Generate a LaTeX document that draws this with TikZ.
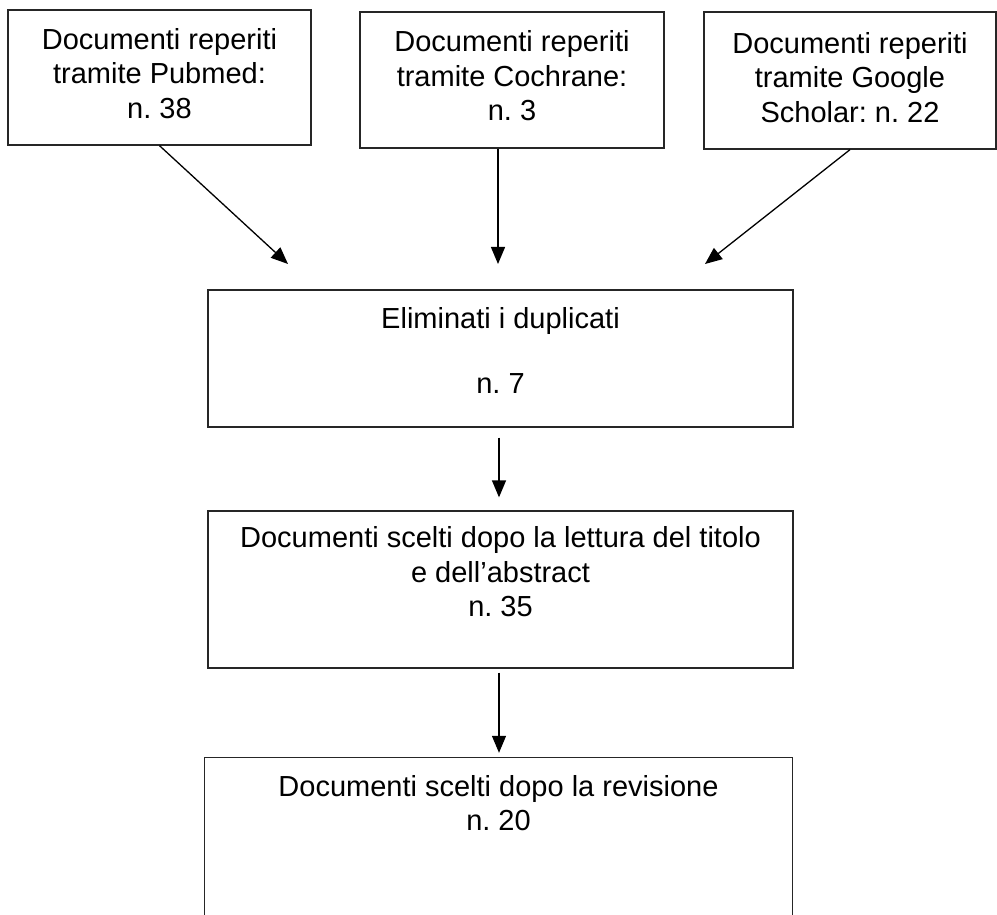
\documentclass[tikz,border=0pt]{standalone}
\usepackage{fontspec}
\setmainfont{Liberation Sans}
\usetikzlibrary{arrows.meta,calc}
\frenchspacing
\begin{document}
\begin{tikzpicture}[x=1pt,y=-1pt,
  box/.style={draw=black!85,line width=1.3pt,rectangle,inner sep=0pt},
  lbl/.style={align=center,inner sep=0pt,font=\frenchspacing\fontsize{29}{34.5}\selectfont},
  arr/.style={line width=1.3pt,-{Triangle[length=17pt,width=14pt]}}]
\useasboundingbox (0,0) rectangle (997,915);
% top boxes
\node[box,minimum width=303pt,minimum height=135pt] (b1) at (159.5,77.5) {};
\node[lbl] (l1) at ($(b1)+(0,-4)$) {Documenti reperiti\\tramite Pubmed:\\n. 38};
\node[box,minimum width=304pt,minimum height=136pt] (b2) at (512,80) {};
\node[lbl] (l2) at ($(b2)+(0,-4)$) {Documenti reperiti\\tramite Cochrane:\\n. 3};
\node[box,minimum width=292pt,minimum height=137pt] (b3) at (850,80.5) {};
\node[lbl] (l3) at ($(b3)+(0,-3)$) {Documenti reperiti\\tramite Google\\Scholar: n. 22};
% middle boxes
\node[box,minimum width=585pt,minimum height=137pt] (b4) at (500.5,358.5) {};
\node[lbl] (l4) at (500.5,350) {Eliminati i duplicati\\[30.5pt]n. 7};
\node[box,minimum width=585pt,minimum height=157pt] (b5) at (500.5,589.5) {};
\node[lbl] (l5) at (500.5,572) {Documenti scelti dopo la lettura del titolo\\e dell’abstract\\n. 35};
% bottom box (open at the bottom)
\node[inner sep=0pt,minimum width=587pt,minimum height=157pt] (b6) at (498.5,836.5) {};
\draw[draw=black!85,line width=1.3pt] (b6.south west) -- (b6.north west) -- (b6.north east) -- (b6.south east);
\node[lbl] (l6) at (498.5,803) {Documenti scelti dopo la revisione\\n. 20};
% arrow tips
\coordinate (t1) at (288,264);
\coordinate (t2) at (498,264);
\coordinate (t3) at (705,264);
\coordinate (m) at (499,0);
\draw[arr] (b1.south) -- (t1);
\draw[arr] (b2.south -| t2) -- (t2);
\draw[arr] (b3.south) -- (t3);
\draw[arr,shorten <=10pt,shorten >=13pt] (b4.south -| m) -- (b5.north -| m);
\draw[arr,shorten <=4pt,shorten >=5pt] (b5.south -| m) -- (b6.north -| m);
\end{tikzpicture}
\end{document}
